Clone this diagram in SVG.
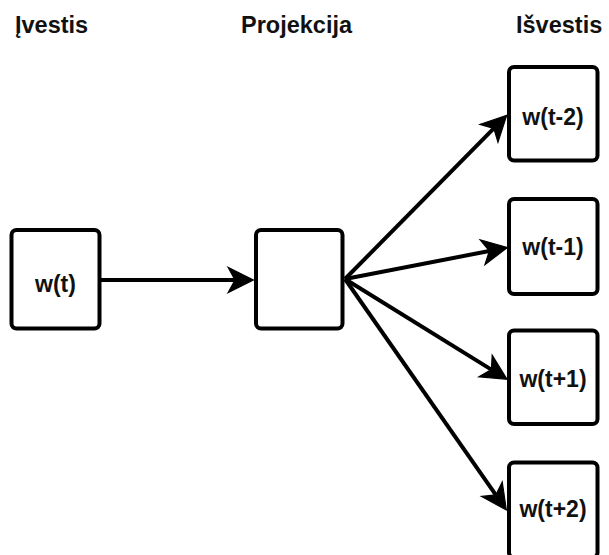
<svg xmlns="http://www.w3.org/2000/svg" width="609" height="555" viewBox="0 0 609 555">
  <style>
    .box { fill: #ffffff; stroke: #000000; stroke-width: 4; }
    .title { font-family: "Liberation Sans", Arial, sans-serif; font-weight: bold; font-size: 23.5px; fill: #111111; }
    .label { font-family: "Liberation Sans", Arial, sans-serif; font-weight: bold; font-size: 23px; fill: #111111; text-anchor: middle; }
    .edge { stroke: #000000; stroke-width: 4; fill: none; marker-end: url(#arrow); }
  </style>
  <defs>
    <!-- classic notched arrowhead, reference point at the notch -->
    <marker id="arrow" markerUnits="userSpaceOnUse" markerWidth="30" markerHeight="30" viewBox="-8 -13 26 26" refX="0" refY="0" orient="auto" overflow="visible">
      <path d="M16,0 L-6,-11 L0,0 L-6,11 Z" fill="#000000" stroke="#000000" stroke-width="1" stroke-linejoin="miter"/>
    </marker>
  </defs>
  <rect width="609" height="555" fill="#ffffff"/>

  <!-- column headings -->
  <g id="headings">
    <text class="title" x="15" y="33">Įvestis</text>
    <text class="title" x="241" y="33">Projekcija</text>
    <text class="title" x="516" y="33">Išvestis</text>
  </g>

  <!-- connectors -->
  <g id="connectors">
    <line class="edge" x1="101" y1="280" x2="235" y2="280"/>
    <line class="edge" x1="345" y1="279" x2="493.8" y2="128.4"/>
    <line class="edge" x1="345" y1="279" x2="489.3" y2="251.0"/>
    <line class="edge" x1="345" y1="279" x2="491.4" y2="369.6"/>
    <line class="edge" x1="345" y1="279" x2="495.8" y2="494.9"/>
  </g>

  <!-- input word -->
  <g id="input">
    <rect class="box" x="11.5" y="230" width="88" height="98.5" rx="5"/>
    <text class="label" x="55.5" y="292">w(t)</text>
  </g>

  <!-- projection layer -->
  <g id="projection">
    <rect class="box" x="256" y="230" width="86.5" height="98.5" rx="5"/>
  </g>

  <!-- context words -->
  <g id="out-t-2">
    <rect class="box" x="509" y="67" width="88.5" height="93.5" rx="5"/>
    <text class="label" x="553" y="125">w(t-2)</text>
  </g>
  <g id="out-t-1">
    <rect class="box" x="509" y="199" width="88.5" height="95" rx="5"/>
    <text class="label" x="553" y="255">w(t-1)</text>
  </g>
  <g id="out-t+1">
    <rect class="box" x="509" y="330.5" width="88.5" height="93.5" rx="5"/>
    <text class="label" x="553" y="387">w(t+1)</text>
  </g>
  <g id="out-t+2">
    <rect class="box" x="509" y="462.5" width="88.5" height="95" rx="5"/>
    <text class="label" x="553" y="517">w(t+2)</text>
  </g>
</svg>
